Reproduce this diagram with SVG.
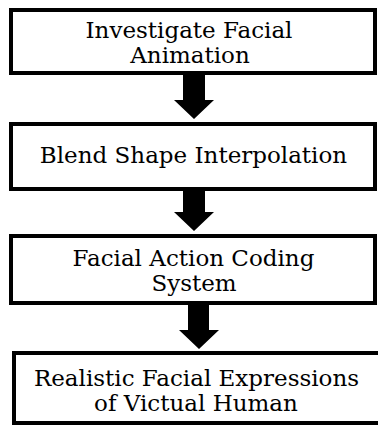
<svg xmlns="http://www.w3.org/2000/svg" width="378" height="426" viewBox="0 0 378 426">
<style>
.box{fill:#fff;stroke:#000;stroke-width:4}
.t{font-family:"DejaVu Serif","Liberation Serif",serif;font-size:23px;fill:#000;text-anchor:middle}
.arr{fill:#000;stroke:none}
</style>
<rect width="378" height="426" fill="#fff"/>
<g id="connectors">
<polygon class="arr" points="183,73 205,73 205,100 214,100 194,119 174,100 183,100"/>
<polygon class="arr" points="183,189 205,189 205,212 214,212 194,231 174,212 183,212"/>
<polygon class="arr" points="188,303 209,303 209,330 219,330 199,349 179,330 188,330"/>
</g>
<g id="n1">
<rect class="box" x="11" y="10" width="364" height="63"/>
<text class="t" x="189" y="38">Investigate Facial</text>
<text class="t" x="190" y="63">Animation</text>
</g>
<g id="n2">
<rect class="box" x="11" y="124" width="364" height="65"/>
<text class="t" x="193.5" y="163">Blend Shape Interpolation</text>
</g>
<g id="n3">
<rect class="box" x="11" y="236" width="364" height="67"/>
<text class="t" x="193.5" y="266">Facial Action Coding</text>
<text class="t" x="194" y="291">System</text>
</g>
<g id="n4">
<rect class="box" x="14" y="353" width="370" height="70"/>
<text class="t" x="196.5" y="386">Realistic Facial Expressions</text>
<text class="t" x="196" y="411">of Victual Human</text>
</g>
</svg>
